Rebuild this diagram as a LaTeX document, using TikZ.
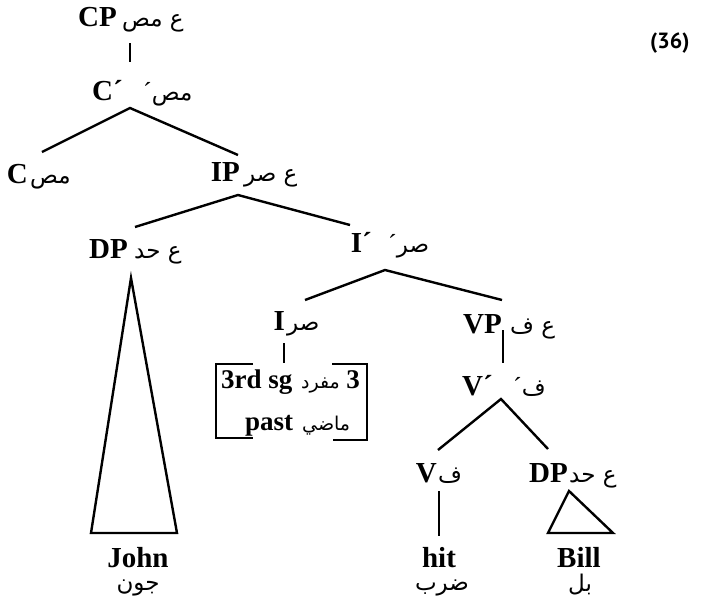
\documentclass[tikz,border=0pt]{standalone}
\usepackage{fontspec}
\setmainfont{Liberation Serif}
\newfontfamily\arabicfont[Script=Arabic]{DejaVu Sans}
\newfontfamily\labfont{PT Sans}
\TeXXeTstate=1
\newcommand\ar[1]{{\arabicfont\fontsize{23}{25}\selectfont\beginR #1\endR}}
\newcommand\arsm[1]{{\arabicfont\fontsize{19}{21}\selectfont\beginR #1\endR}}
\newcommand\pr{{\fontsize{26}{26}\selectfont ´}}
\tikzset{
 en/.style={font=\fontsize{29}{30}\selectfont\bfseries, inner sep=0pt, anchor=base east},
 boxt/.style={font=\fontsize{27}{28}\selectfont\bfseries, inner sep=0pt, anchor=base west},
 arb/.style={inner sep=0pt, anchor=base west},
 leaf/.style={font=\fontsize{29}{30}\selectfont\bfseries, inner sep=0pt, anchor=base},
 leafa/.style={inner sep=0pt, anchor=base},
 edge/.style={line width=2.4pt},
}
\begin{document}
\begin{tikzpicture}[x=1pt,y=-1pt]
\useasboundingbox (0,0) rectangle (705,597);
\fill[white] (0,0) rectangle (705,597);
% labels
\node[en] (cp) at (117,27) {CP};
\node[arb] (cpa) at (122,27) {\ar{ع مص}};
\node[en] (cbar) at (123,100) {C´};
\node[arb] (cbara) at (143,100) {\pr\ar{مص}};
\node[en] (c) at (28,183) {C};
\node[arb] (ca) at (30,183) {\ar{مص}};
\node[en] (ip) at (240,181) {IP};
\node[arb] (ipa) at (244,181) {\ar{ع صر}};
\node[en] (dp) at (128,258) {DP};
\node[arb] (dpa) at (134,258) {\ar{ع حد}};
\node[en] (ibar) at (372,252) {I´};
\node[arb] (ibara) at (388,252) {\pr\ar{صر}};
\node[en] (i) at (285,330) {I};
\node[arb] (ia) at (287,330) {\ar{صر}};
\node[en] (vp) at (502,333) {VP};
\node[arb] (vpa) at (510,333) {\ar{ع ف}};
\node[en] (vbar) at (493,395) {V´};
\node[arb] (vbara) at (513,395) {\pr\ar{ف}};
\node[en] (v) at (437,482) {V};
\node[arb] (va) at (438,482) {\ar{ف}};
\node[en] (dp2) at (568,482) {DP};
\node[arb] (dp2a) at (569,482) {\ar{ع حد}};
% box text
\node[boxt] (r1e) at (221,388) {3rd sg};
\node[inner sep=0pt, anchor=base east] (r1a) at (340,388) {\arsm{مفرد}};
\node[boxt, anchor=base east] (r1n) at (360,388) {3};
\node[boxt] (r2e) at (245,430) {past};
\node[arb] (r2a) at (302,430) {\arsm{ماضي}};
% leaves
\node[leaf] (john) at (138,567) {John};
\node[leafa] (johna) at (138,590) {\ar{جون}};
\node[leaf] (hit) at (439,567) {hit};
\node[leafa] (hita) at (442,590) {\ar{ضرب}};
\node[leaf] (bill) at (579,567) {Bill};
\node[leafa] (billa) at (580,591) {\ar{بل}};
\node[inner sep=0pt, anchor=base west, font=\labfont\bfseries\fontsize{22}{22}\selectfont] (num) at (650,48) {(36)};
% attachment points
\coordinate (cp-dn) at (130,43);
\coordinate (cbar-up) at (130,62);
\coordinate (cbar-dn) at (130,108);
\coordinate (c-up) at (42,152);
\coordinate (ip-up) at (238,155);
\coordinate (ip-dn) at (238,195);
\coordinate (dp-up) at (135,227);
\coordinate (ibar-up) at (350,225);
\coordinate (ibar-dn) at (385,270);
\coordinate (i-up) at (305,300);
\coordinate (vp-up) at (502,300);
\coordinate (i-dn) at (284,343);
\coordinate (box-up) at (284,363);
\coordinate (vp-dn) at (503,330);
\coordinate (vbar-up) at (503,363);
\coordinate (vbar-dn) at (501,399);
\coordinate (v-up) at (438,450);
\coordinate (dp2-up) at (548,449);
\coordinate (v-dn) at (439,491);
\coordinate (hit-up) at (439,536);
\coordinate (dp-tri) at (131,278);
\coordinate (john-l) at (91,533);
\coordinate (john-r) at (177,533);
\coordinate (dp2-tri) at (569,491);
\coordinate (bill-l) at (548,533);
\coordinate (bill-r) at (613,533);
\coordinate (bl-t) at (253,364);
\coordinate (bl-tc) at (216,364);
\coordinate (bl-bc) at (216,438);
\coordinate (bl-b) at (253,438);
\coordinate (br-t) at (332,364);
\coordinate (br-tc) at (367,364);
\coordinate (br-bc) at (367,440);
\coordinate (br-b) at (333,440);
% connectors
\draw[edge] (cp-dn) -- (cbar-up);
\draw[edge] (c-up) -- (cbar-dn) -- (ip-up);
\draw[edge] (dp-up) -- (ip-dn) -- (ibar-up);
\draw[edge] (i-up) -- (ibar-dn) -- (vp-up);
\draw[edge] (i-dn) -- (box-up);
\draw[edge] (vp-dn) -- (vbar-up);
\draw[edge] (v-up) -- (vbar-dn) -- (dp2-up);
\draw[edge] (v-dn) -- (hit-up);
\draw[edge, line join=miter] (dp-tri) -- (john-l) -- (john-r) -- cycle;
\draw[edge, line join=miter] (dp2-tri) -- (bill-l) -- (bill-r) -- cycle;
\draw[edge] (bl-t) -- (bl-tc) -- (bl-bc) -- (bl-b);
\draw[edge] (br-t) -- (br-tc) -- (br-bc) -- (br-b);
\end{tikzpicture}
\end{document}
